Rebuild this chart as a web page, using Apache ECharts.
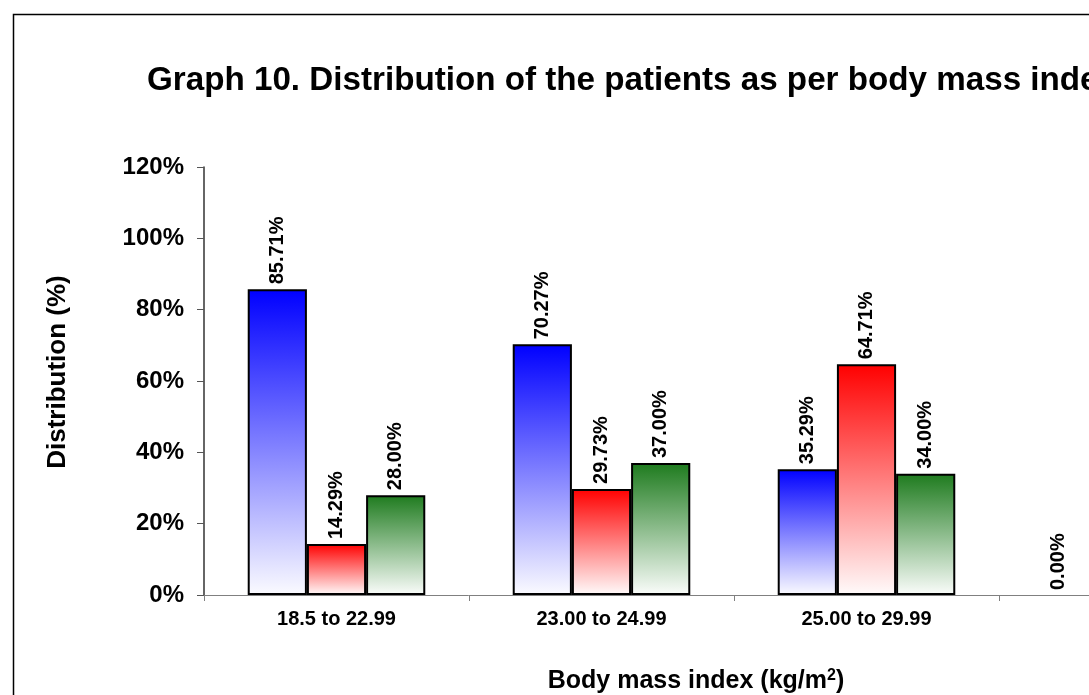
<!DOCTYPE html>
<html>
<head>
<meta charset="utf-8">
<script src="https://cdn.jsdelivr.net/npm/echarts@6/dist/echarts.min.js"></script>
<style>
html,body{margin:0;padding:0;background:#fff;overflow:hidden;width:1089px;height:695px;}
#chart{width:1300px;height:695px;}
</style>
</head>
<body>
<div id="chart"></div>
<script>
// ---- data ----
const categories = ['18.5 to 22.99', '23.00 to 24.99', '25.00 to 29.99', '≥ 30.00'];
const seriesBlue = [85.71, 70.27, 35.29, 0.00];
const seriesRed = [14.29, 29.73, 64.71, null];
const seriesGreen = [28.00, 37.00, 34.00, null];
const yTicks = [0, 20, 40, 60, 80, 100, 120];
const titleText = 'Graph 10. Distribution of the patients as per body mass index';
const yName = 'Distribution (%)';

const FONT = "'Liberation Sans', Arial, sans-serif";

function grad(top, bottom) {
  return new echarts.graphic.LinearGradient(0, 0, 0, 1, [
    { offset: 0, color: top },
    { offset: 1, color: bottom }
  ]);
}

const labelCfg = {
  show: true,
  position: 'top',
  rotate: 90,
  align: 'left',
  verticalAlign: 'middle',
  distance: 5,
  fontFamily: FONT,
  fontWeight: 'bold',
  fontSize: 20,
  color: '#000',
  formatter: p => (p.value == null ? '' : Number(p.value).toFixed(2) + '%')
};

function toItems(data) {
  return data.map(v => v === 0
    ? { value: v, itemStyle: { borderWidth: 0 }, label: { offset: [0, -14] } }
    : v);
}

function barSeries(name, data, top, bottom) {
  return {
    name: name,
    type: 'bar',
    data: toItems(data),
    barGap: '0%',
    barCategoryGap: '33%',
    itemStyle: { color: grad(top, bottom), borderColor: '#000', borderWidth: 2 },
    label: labelCfg,
    emphasis: { disabled: true }
  };
}

const chart = echarts.init(document.getElementById('chart'));
chart.setOption({
  animation: false,
  backgroundColor: '#fff',
  grid: { left: 204, top: 167, width: 1060, height: 428, containLabel: false },
  xAxis: {
    type: 'category',
    data: categories,
    axisLine: { lineStyle: { color: '#808080', width: 1 } },
    axisTick: { show: true, length: 6, lineStyle: { color: '#808080' } },
    axisLabel: { interval: 0, margin: 14, fontFamily: FONT, fontWeight: 'bold', fontSize: 20, color: '#000' }
  },
  yAxis: {
    type: 'value',
    min: yTicks[0],
    max: yTicks[yTicks.length - 1],
    interval: yTicks[1] - yTicks[0],
    splitLine: { show: false },
    axisLine: { show: true, lineStyle: { color: '#333', width: 1.5 } },
    axisTick: { show: true, length: 7, lineStyle: { color: '#555' } },
    axisLabel: { margin: 20, fontFamily: FONT, fontWeight: 'bold', fontSize: 24, color: '#000', formatter: '{value}%' }
  },
  series: [
    barSeries('Blue', seriesBlue, '#0000ff', '#fbfbff'),
    barSeries('Red', seriesRed, '#ff0000', '#fffbfb'),
    barSeries('Green', seriesGreen, '#1e7b1e', '#fbfdfb')
  ],
  graphic: [
    { type: 'rect', left: 11, top: 12, shape: { width: 2000, height: 2000 }, style: { fill: 'none', stroke: '#000', lineWidth: 1.5 }, silent: true, z: -1 },
    { type: 'text', left: 147, top: 64, style: { text: titleText, font: 'bold 33.2px ' + FONT, fill: '#000' } },
    { type: 'text', x: 58, y: 372, rotation: Math.PI / 2, style: { text: yName, font: 'bold 26px ' + FONT, fill: '#000', align: 'center', verticalAlign: 'middle' } },
    { type: 'text', x: 696, y: 681, style: {
        text: 'Body mass index (kg/m{sup|2})',
        font: 'bold 25px ' + FONT, fill: '#000', align: 'center', verticalAlign: 'middle',
        rich: { sup: { font: 'bold 16px ' + FONT, fill: '#000', verticalAlign: 'top', padding: [0, 0, 10, 0] } }
      } }
  ]
});
</script>
</body>
</html>
